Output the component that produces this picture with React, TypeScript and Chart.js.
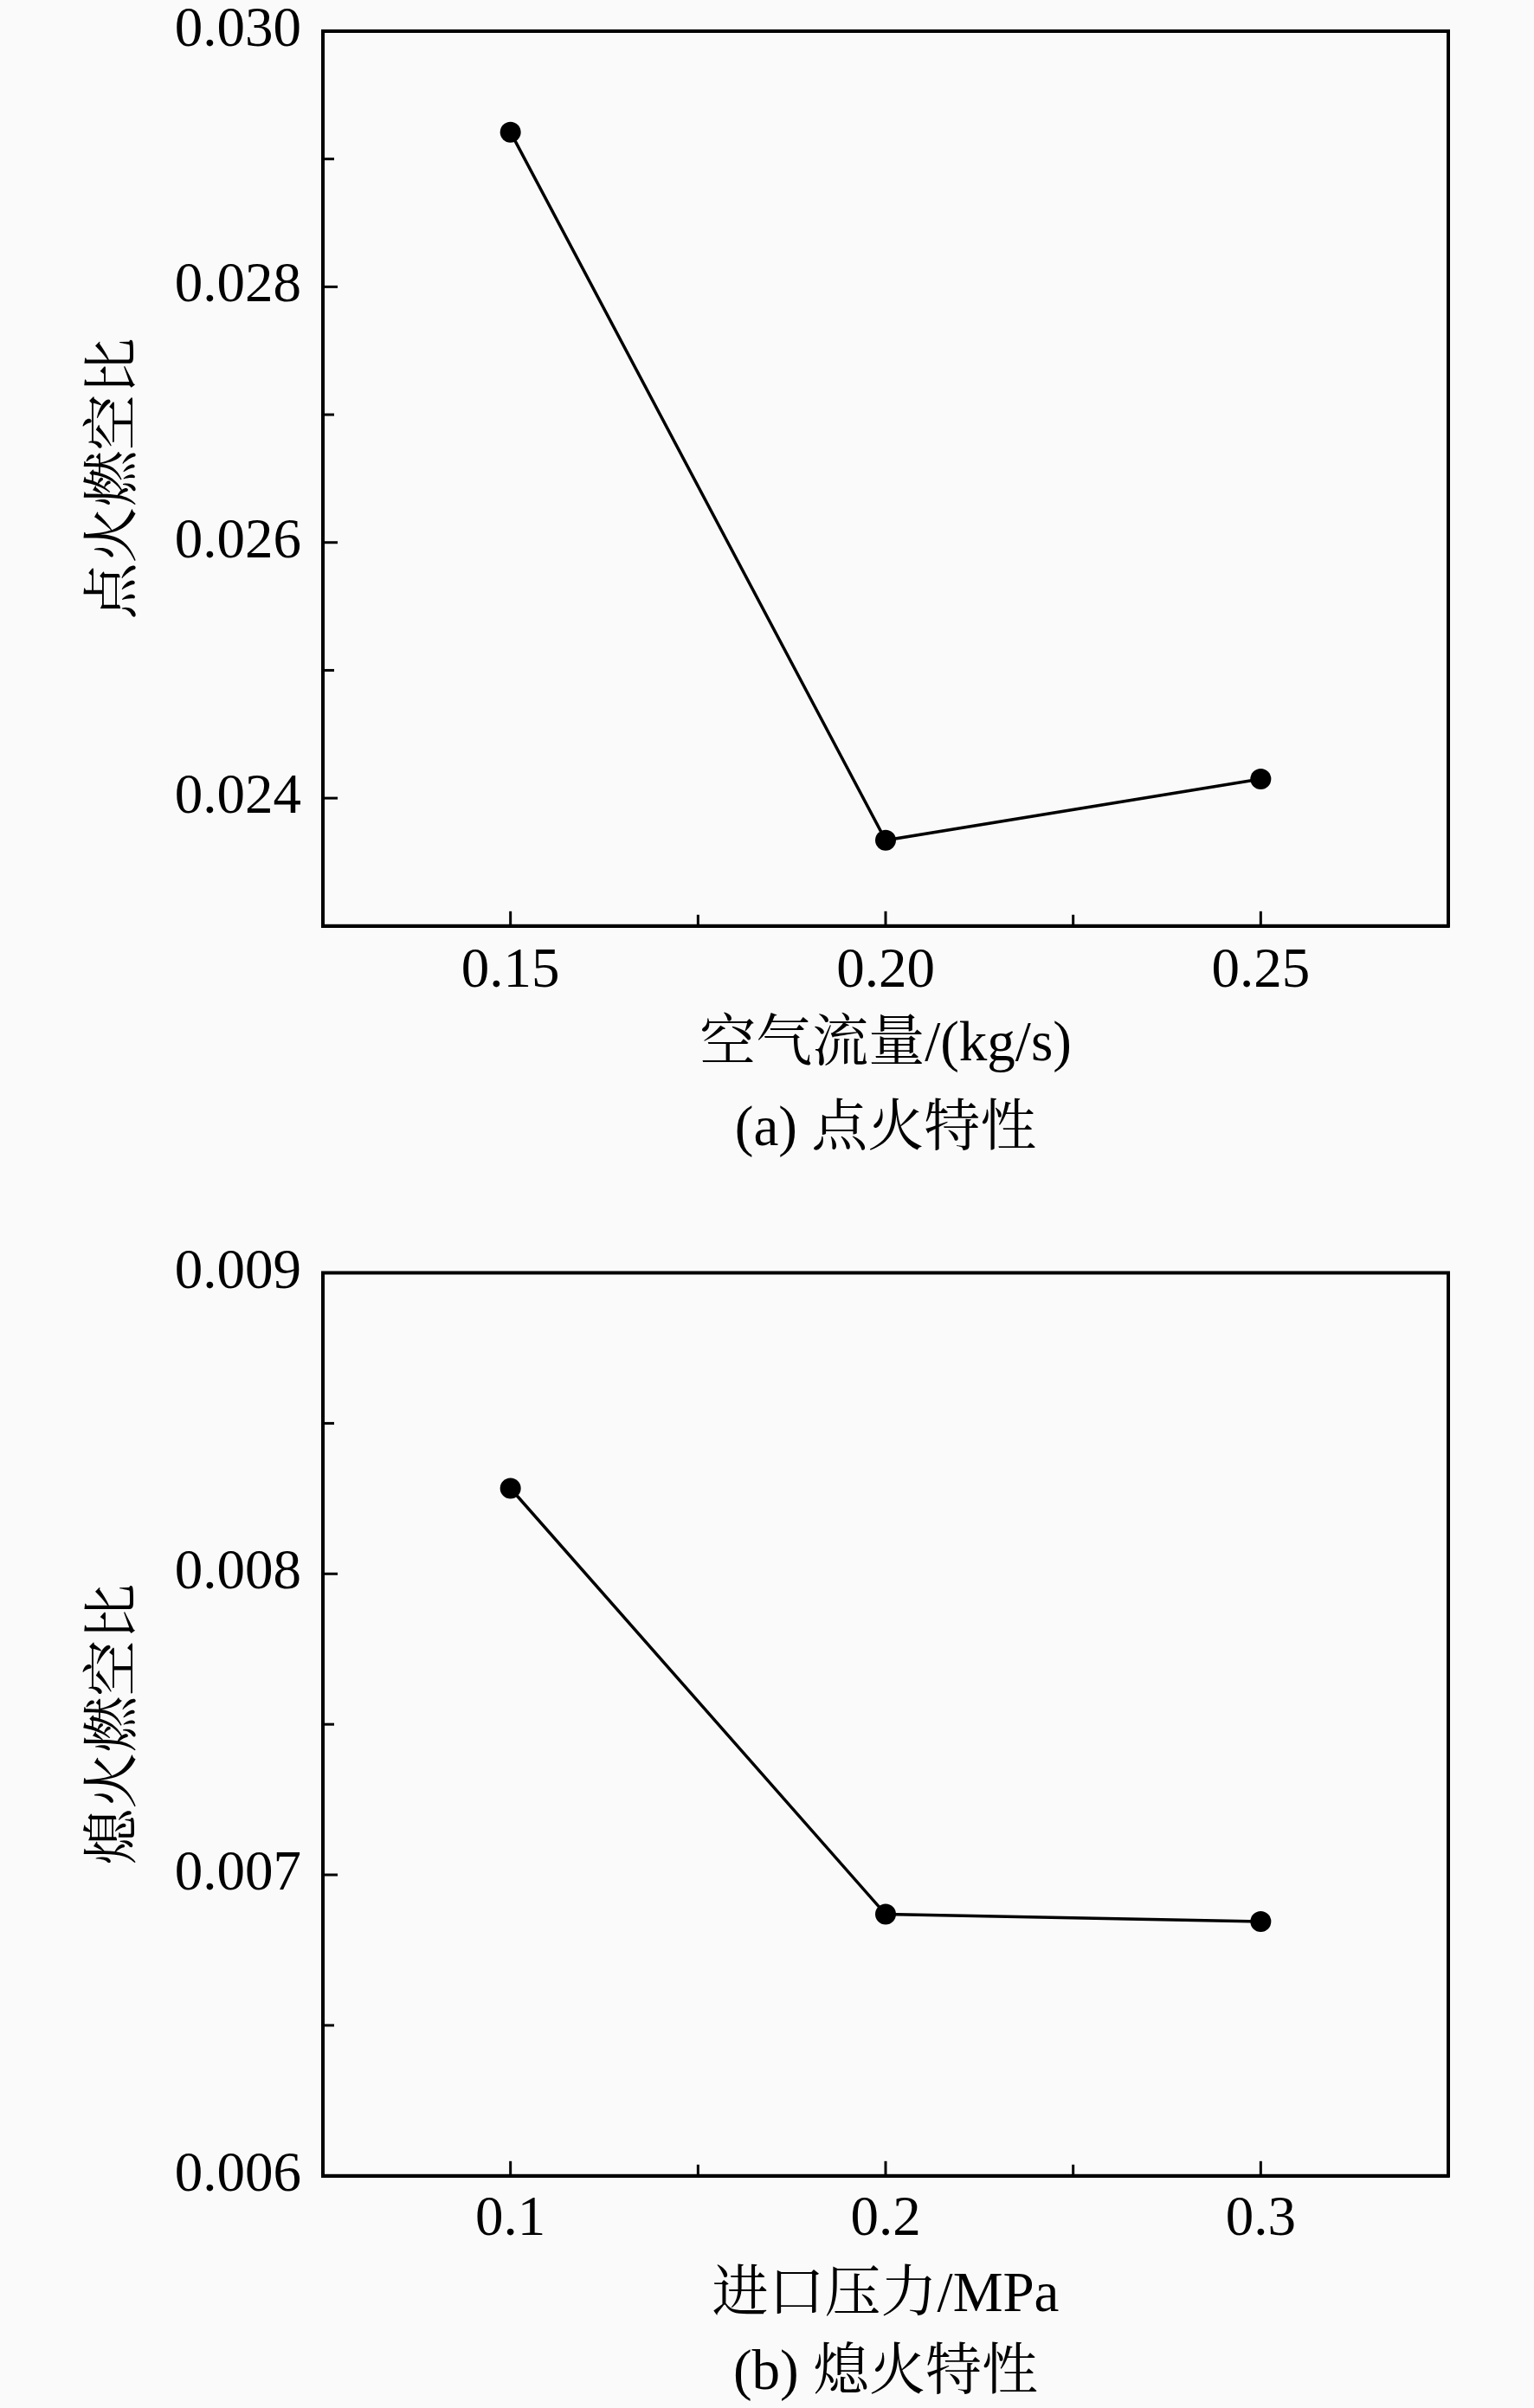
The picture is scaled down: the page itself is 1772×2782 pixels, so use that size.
import React, { useEffect, useRef } from "react";
import { Chart, registerables } from "chart.js";

Chart.register(...registerables);

// ---- Data (a) 点火特性 ----
const airFlow = [0.15, 0.2, 0.25];
const ignitionFAR = [0.02921, 0.02367, 0.02415];
const airFlowTickLabels = [0.15, 0.2, 0.25];
const ignitionTickLabels = [0.024, 0.026, 0.028, 0.03];

// ---- Data (b) 熄火特性 ----
const inletPressure = [0.1, 0.2, 0.3];
const blowoutFAR = [0.008284, 0.006869, 0.006845];
const pressureTickLabels = [0.1, 0.2, 0.3];
const blowoutTickLabels = [0.006, 0.007, 0.008, 0.009];

const FONT = '"Liberation Serif", "Times New Roman", "Noto Serif CJK SC", "Noto Sans CJK SC", serif';
const BG = "#fafafa";

const frameTicks = {
  id: "frameTicks",
  afterDraw(chart: any) {
    const { ctx, chartArea: a, scales } = chart;
    ctx.save();
    ctx.strokeStyle = "#000";
    ctx.lineWidth = 4;
    ctx.lineJoin = "miter";
    ctx.strokeRect(a.left, a.top, a.right - a.left, a.bottom - a.top);
    ctx.lineWidth = 3;
    ctx.lineCap = "butt";
    const sx = scales.x;
    sx.ticks.forEach((t: any) => {
      const px = sx.getPixelForValue(t.value);
      const len = t.label ? 17 : 13;
      ctx.beginPath();
      ctx.moveTo(px, a.bottom);
      ctx.lineTo(px, a.bottom - len);
      ctx.stroke();
    });
    const sy = scales.y;
    sy.ticks.forEach((t: any) => {
      const py = sy.getPixelForValue(t.value);
      const len = t.label ? 17 : 13;
      ctx.beginPath();
      ctx.moveTo(a.left, py);
      ctx.lineTo(a.left + len, py);
      ctx.stroke();
    });
    ctx.restore();
  },
};

type PanelProps = {
  xs: number[];
  ys: number[];
  xMin: number;
  xMax: number;
  xStep: number;
  xLabels: number[];
  xDec: number;
  yMin: number;
  yMax: number;
  yStep: number;
  yLabels: number[];
  yDec: number;
  xTitle: string;
  yTitle: string;
  caption: string;
  height: number;
  padTop: number;
  capPadBottom: number;
  xAxisHeight: number;
  xTitlePad: number;
  xTickPad: number;
};

function Panel(p: PanelProps) {
  const ref = useRef<HTMLCanvasElement | null>(null);
  useEffect(() => {
    if (!ref.current) return;
    const isIn = (arr: number[], v: number) => arr.some((l) => Math.abs(l - v) < 1e-9);
    const chart = new Chart(ref.current, {
      type: "line",
      data: {
        datasets: [
          {
            data: p.xs.map((x, i) => ({ x, y: p.ys[i] })),
            borderColor: "#000",
            borderWidth: 3.5,
            pointRadius: 12,
            pointBackgroundColor: "#000",
            pointBorderWidth: 0,
            tension: 0,
          },
        ],
      },
      options: {
        animation: false,
        responsive: false,
        devicePixelRatio: 1,
        layout: { padding: { top: p.padTop, right: 99, left: 0, bottom: 0 } },
        plugins: {
          legend: { display: false },
          tooltip: { enabled: false },
          title: {
            display: true,
            position: "bottom",
            fullSize: false,
            text: p.caption,
            color: "#000",
            font: { family: FONT, size: 65, weight: "normal", lineHeight: 1.2 },
            padding: { top: 0, bottom: p.capPadBottom },
          },
        },
        scales: {
          x: {
            type: "linear",
            min: p.xMin,
            max: p.xMax,
            grid: { display: false, drawTicks: false },
            border: { display: true, color: "#000", width: 4 },
            ticks: {
              stepSize: p.xStep,
              autoSkip: false,
              maxRotation: 0,
              minRotation: 0,
              padding: p.xTickPad,
              color: "#000",
              font: { family: FONT, size: 65, lineHeight: 1.2 },
              callback: (v: any) => (isIn(p.xLabels, Number(v)) ? Number(v).toFixed(p.xDec) : ""),
            },
            title: {
              display: true,
              text: p.xTitle,
              color: "#000",
              font: { family: FONT, size: 65, lineHeight: 1.2 },
              padding: { top: 0, bottom: p.xTitlePad },
            },
            afterFit: (s: any) => {
              s.height = p.xAxisHeight;
              s.paddingLeft = 0;
              s.paddingRight = 0;
            },
          },
          y: {
            type: "linear",
            min: p.yMin,
            max: p.yMax,
            grid: { display: false, drawTicks: false },
            border: { display: true, color: "#000", width: 4 },
            ticks: {
              stepSize: p.yStep,
              autoSkip: false,
              padding: 25,
              color: "#000",
              font: { family: FONT, size: 65, lineHeight: 1.2 },
              callback: (v: any) => (isIn(p.yLabels, Number(v)) ? Number(v).toFixed(p.yDec) : ""),
            },
            title: {
              display: true,
              text: p.yTitle,
              color: "#000",
              font: { family: FONT, size: 65, lineHeight: 1.2 },
              padding: { top: 95, bottom: 0 },
            },
            afterFit: (s: any) => {
              s.width = 373;
              s.paddingTop = 0;
              s.paddingBottom = 0;
            },
          },
        },
      } as any,
      plugins: [frameTicks],
    });
    return () => chart.destroy();
  }, []);
  return (
    <canvas
      ref={ref}
      width={1772}
      height={p.height}
      style={{ display: "block", width: 1772, height: p.height }}
    />
  );
}

export default function App() {
  return (
    <div
      style={{
        position: "absolute",
        left: 0,
        top: 0,
        width: 1772,
        height: 2782,
        background: BG,
        overflow: "hidden",
      }}
    >
      <div style={{ position: "absolute", left: 0, top: 0 }}>
        <Panel
          xs={airFlow}
          ys={ignitionFAR}
          xMin={0.125}
          xMax={0.275}
          xStep={0.025}
          xLabels={airFlowTickLabels}
          xDec={2}
          yMin={0.023}
          yMax={0.03}
          yStep={0.001}
          yLabels={ignitionTickLabels}
          yDec={3}
          xTitle="空气流量/(kg/s)"
          yTitle="点火燃空比"
          caption="(a) 点火特性"
          height={1360}
          padTop={36}
          capPadBottom={14.6}
          xAxisHeight={197.6}
          xTitlePad={20}
          xTickPad={14}
        />
      </div>
      <div style={{ position: "absolute", left: 0, top: 1400 }}>
        <Panel
          xs={inletPressure}
          ys={blowoutFAR}
          xMin={0.05}
          xMax={0.35}
          xStep={0.05}
          xLabels={pressureTickLabels}
          xDec={1}
          yMin={0.006}
          yMax={0.009}
          yStep={0.0005}
          yLabels={blowoutTickLabels}
          yDec={3}
          xTitle="进口压力/MPa"
          yTitle="熄火燃空比"
          caption="(b) 熄火特性"
          height={1382}
          padTop={70.5}
          capPadBottom={0}
          xAxisHeight={190.2}
          xTitlePad={12}
          xTickPad={12}
        />
      </div>
    </div>
  );
}
